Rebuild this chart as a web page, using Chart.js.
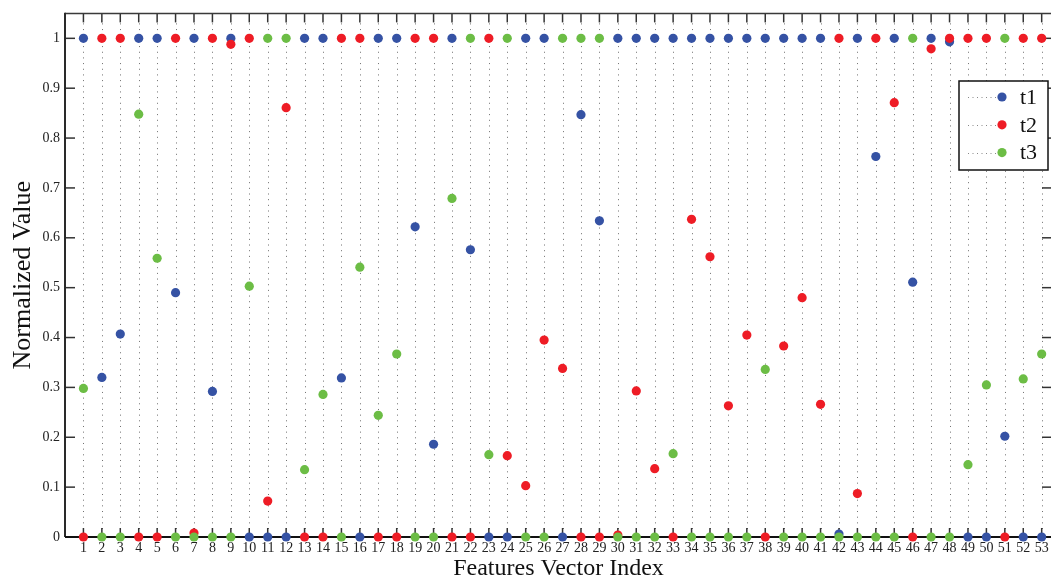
<!DOCTYPE html>
<html><head><meta charset="utf-8">
<script src="https://cdn.jsdelivr.net/npm/chart.js@4/dist/chart.umd.min.js"></script>
<style>
html,body{margin:0;padding:0;background:#fff;overflow:hidden;width:1051px;height:579px}
#wrap{position:relative;width:1060px;height:579px}
</style>
</head><body><div id="wrap"><canvas id="c" width="1060" height="579"></canvas></div>
<script>
const categories = [1,2,3,4,5,6,7,8,9,10,11,12,13,14,15,16,17,18,19,20,21,22,23,24,25,26,27,28,29,30,31,32,33,34,35,36,37,38,39,40,41,42,43,44,45,46,47,48,49,50,51,52,53];
const t1 = [1,0.320,0.407,1,1,0.490,1,0.292,1,0,0,0,1,1,0.319,0,1,1,0.622,0.186,1,0.576,0,0,1,1,0,0.847,0.634,1,1,1,1,1,1,1,1,1,1,1,1,0.006,1,0.763,1,0.511,1,0.993,0,0,0.202,0,0];
const t2 = [0,1,1,0,0,1,0.008,1,0.988,1,0.072,0.861,0,0,1,1,0,0,1,1,0,0,1,0.163,0.103,0.395,0.338,0,0,0.004,0.293,0.137,0,0.637,0.562,0.263,0.405,0,0.383,0.480,0.266,1,0.087,1,0.871,0,0.979,1,1,1,0,1,1];
const t3 = [0.298,0,0,0.848,0.559,0,0,0,0,0.503,1,1,0.135,0.286,0,0.541,0.244,0.367,0,0,0.679,1,0.165,1,0,0,1,1,1,0,0,0,0.167,0,0,0,0,0.336,0,0,0,0,0,0,0,1,0,0,0.145,0.305,1,0.317,0.367];
const yTicks = [0,0.1,0.2,0.3,0.4,0.5,0.6,0.7,0.8,0.9,1];
const yTickLabels = ['0','0.1','0.2','0.3','0.4','0.5','0.6','0.7','0.8','0.9','1'];
const seriesNames = ['t1','t2','t3'];
const seriesColors = ['#3552a4','#ee1c25','#6cbd45'];
const seriesValues = [t1,t2,t3];

const SERIF = "'Liberation Serif','Times New Roman',serif";

const framePlugin = {
  id:'frame',
  beforeDatasetsDraw(chart){
    const {ctx, chartArea:a, scales:{x,y}} = chart;
    ctx.save();
    ctx.strokeStyle='#6e6e6e'; ctx.lineWidth=1; ctx.setLineDash([1,4.67]);
    categories.forEach(c=>{
      const px=Math.round(x.getPixelForValue(c))+0.5;
      ctx.beginPath(); ctx.moveTo(px,a.top+10); ctx.lineTo(px,a.bottom); ctx.stroke();
    });
    ctx.setLineDash([]);
    ctx.strokeStyle='#333'; ctx.lineWidth=1.5;
    categories.forEach(c=>{
      const px=x.getPixelForValue(c);
      ctx.beginPath(); ctx.moveTo(px,a.top); ctx.lineTo(px,a.top+9); ctx.stroke();
      ctx.beginPath(); ctx.moveTo(px,a.bottom); ctx.lineTo(px,a.bottom-9); ctx.stroke();
    });
    yTicks.forEach(v=>{
      const py=y.getPixelForValue(v);
      ctx.beginPath(); ctx.moveTo(a.left,py); ctx.lineTo(a.left+10,py); ctx.stroke();
      ctx.beginPath(); ctx.moveTo(a.right,py); ctx.lineTo(a.right-10,py); ctx.stroke();
    });
    ctx.strokeStyle='#3a3a3a'; ctx.lineWidth=1.5;
    ctx.beginPath(); ctx.moveTo(a.left,a.top); ctx.lineTo(a.right,a.top); ctx.stroke();
    ctx.beginPath(); ctx.moveTo(a.right,a.top); ctx.lineTo(a.right,a.bottom); ctx.stroke();
    ctx.strokeStyle='#2a2a2a'; ctx.lineWidth=2;
    ctx.beginPath(); ctx.moveTo(a.left,a.top-0.75); ctx.lineTo(a.left,a.bottom); ctx.stroke();
    ctx.strokeStyle='#111'; ctx.lineWidth=2.2;
    ctx.beginPath(); ctx.moveTo(a.left,a.bottom); ctx.lineTo(a.right,a.bottom); ctx.stroke();
    ctx.restore();
  },
  afterDraw(chart){
    const ctx = chart.ctx;
    ctx.save();
    const bx=959, by=81, bw=89, bh=89;
    ctx.fillStyle='#fff'; ctx.fillRect(bx,by,bw,bh);
    ctx.strokeStyle='#111'; ctx.lineWidth=1.5; ctx.strokeRect(bx,by,bw,bh);
    seriesNames.forEach((n,i)=>{
      const yy = 97 + i*27.8;
      ctx.strokeStyle='#888'; ctx.lineWidth=1; ctx.setLineDash([1,3.5]);
      ctx.beginPath(); ctx.moveTo(968,Math.round(yy)+0.5); ctx.lineTo(996,Math.round(yy)+0.5); ctx.stroke();
      ctx.setLineDash([]);
      ctx.fillStyle=seriesColors[i];
      ctx.beginPath(); ctx.arc(1002,yy,4.6,0,Math.PI*2); ctx.fill();
      ctx.fillStyle='#111'; ctx.font="22px "+SERIF; ctx.textBaseline='middle'; ctx.textAlign='left';
      ctx.fillText(n,1020,yy+1);
    });
    ctx.restore();
  }
};

const datasets = seriesNames.map((n,i)=>({
  label:n,
  data: categories.map((c,k)=>({x:c,y:seriesValues[i][k]})),
  backgroundColor: seriesColors[i],
  borderColor: seriesColors[i],
  pointRadius:4.6,
  pointBorderWidth:0,
  showLine:false,
  clip:false,
  order: 2-i
}));

new Chart(document.getElementById('c'),{
  type:'scatter',
  data:{datasets},
  options:{
    responsive:false, animation:false, devicePixelRatio:1,
    layout:{padding:{top:13,right:8,left:0,bottom:0}},
    plugins:{legend:{display:false}, tooltip:{enabled:false}},
    scales:{
      x:{type:'linear', min:0, max:53.56,
        afterBuildTicks:s=>{s.ticks=categories.map(v=>({value:v}));},
        afterFit:s=>{s.height=42;},
        grid:{display:false, drawTicks:false}, border:{display:false},
        ticks:{autoSkip:false, maxRotation:0, minRotation:0, padding:3, color:'#222', font:{family:SERIF,size:14},
          callback:(v)=>String(v)},
        title:{display:true, text:'Features Vector Index', color:'#111', font:{family:SERIF,size:24,lineHeight:0.85}, padding:0}
      },
      y:{type:'linear', min:0, max:1.05,
        afterBuildTicks:s=>{s.ticks=yTicks.map(v=>({value:v}));},
        afterFit:s=>{s.width=65;},
        grid:{display:false, drawTicks:false}, border:{display:false},
        ticks:{padding:5, color:'#222', font:{family:SERIF,size:14},
          callback:(v)=>{const k=yTicks.indexOf(v); return k>=0?yTickLabels[k]:'';}},
        title:{display:true, text:'Normalized Value', color:'#111', font:{family:SERIF,size:26,lineHeight:1}, padding:{top:10,bottom:0}}
      }
    }
  },
  plugins:[framePlugin]
});
</script>
</body></html>
